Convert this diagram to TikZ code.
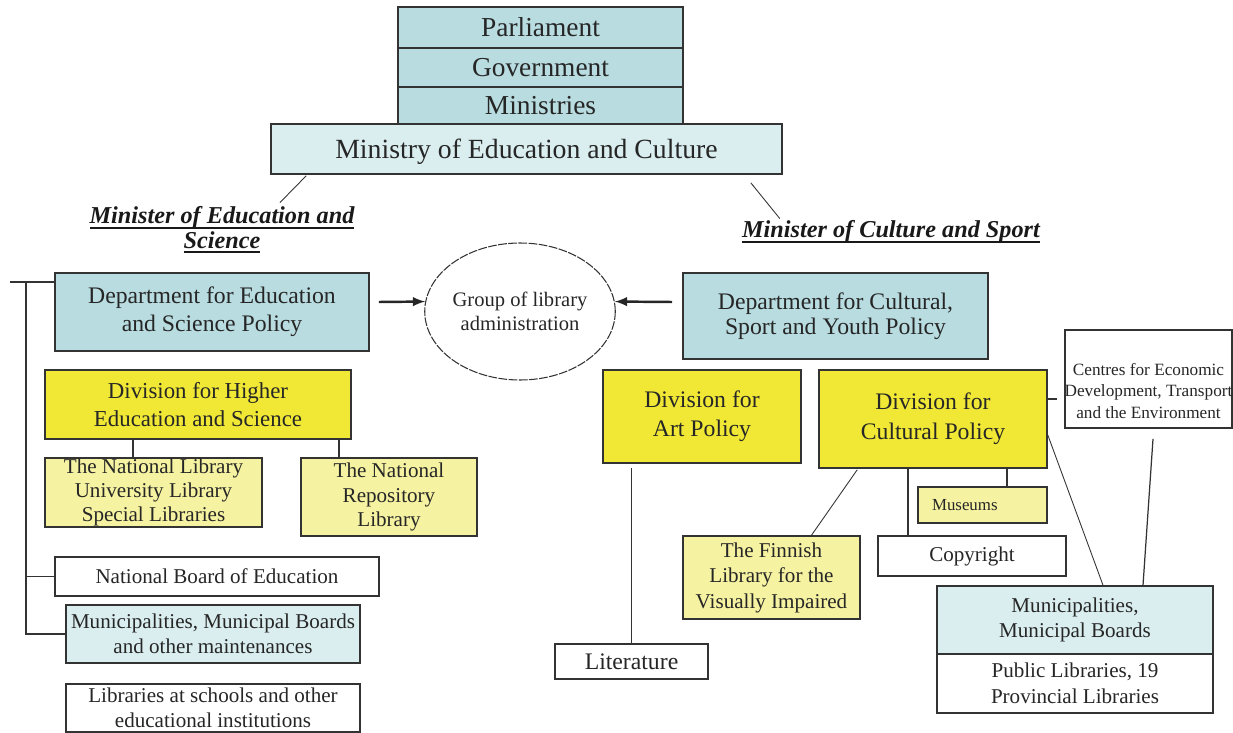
\documentclass[tikz,border=0pt]{standalone}
\usepackage{fontspec}
\setmainfont{Liberation Serif}
\usetikzlibrary{arrows,calc,shapes.geometric}
\definecolor{deep}{HTML}{B8DCE0}
\definecolor{pale}{HTML}{DAEEF0}
\definecolor{yell}{HTML}{F0E835}
\definecolor{lyell}{HTML}{F5F2A1}
\newcommand{\minline}[1]{\setbox0\hbox{#1}\rlap{\rule[-2.8pt]{\wd0}{1.2pt}}\box0}
\tikzset{
  box/.style={draw=black!80,line width=0.9pt,inner sep=0pt,align=center,text=black!85},
  sz/.style 2 args={minimum width=#1*0.02cm,minimum height=#2*0.02cm},
  conn/.style={draw=black!80,line width=0.7pt},
  arr/.style={draw=black!85,line width=1.4pt,-latex},
  minlabel/.style={inner sep=0pt,align=center,text=black!90,font=\fontsize{13.8}{13.8}\bfseries\itshape}
}

\begin{document}
\begin{tikzpicture}[x=0.02cm,y=-0.02cm]
  \useasboundingbox (0,0) rectangle (1233,733);

  % top of the chart
  \node[box,fill=deep,sz={285}{41},font=\fontsize{15.6}{18}\selectfont] (parl) at (540.5,27.5) {Parliament};
  \node[box,fill=deep,sz={285}{39},font=\fontsize{15.6}{18}\selectfont] (gov) at (540.5,67.5) {Government};
  \node[box,fill=deep,sz={285}{37},font=\fontsize{15.6}{18}\selectfont] (mins) at (540.5,105.5) {Ministries};
  \node[box,fill=pale,sz={511}{50},text height=14pt,text depth=3pt,font=\fontsize{15.8}{18}\selectfont] (moec) at (526.5,149) {Ministry of Education and Culture};

  \node[minlabel] (minEd) at (222,230) {\minline{Minister of Education and}\\\minline{Science}};
  \node[minlabel] (minCu) at (891,232) {\minline{Minister of Culture and Sport}};
  \draw[conn,line width=0.5pt] ($(moec.south west)+(36,1)$) -- ($(minEd.north)+(58,-4)$);
  \draw[conn,line width=0.5pt] ($(moec.south east)+(-32,8)$) -- ($(minCu.north west)+(38,-2)$);

  % departments and the group
  \node[box,fill=deep,sz={314}{78},font=\fontsize{13.5}{16}\selectfont] (deped) at (212,312) {Department for Education\\and Science Policy};
  \node[ellipse,draw=black!80,line width=0.6pt,dash pattern=on 5pt off 0.8pt,inner sep=0pt,align=center,sz={186}{137},
        text=black!85,font=\fontsize{11.7}{13.6}\selectfont] (group) at (520,311.5) {Group of library\\administration};
  \node[box,fill=deep,sz={305}{86},font=\fontsize{13.5}{14.2}\selectfont] (depcu) at (835.5,316) {Department for Cultural,\\Sport and Youth Policy};
  \draw[arr] ($(deped.east)+(9,-10)$) -- (group.174);
  \draw[arr] ($(depcu.west)+(-10,-14)$) -- (group.6);

  % education side
  \node[box,fill=yell,sz={306}{69},font=\fontsize{13}{16}\selectfont] (divhe) at (198,404.5) {Division for Higher\\Education and Science};
  \node[box,fill=lyell,sz={217}{69},font=\fontsize{12}{13.9}\selectfont] (natlib) at (153.5,492.5) {The National Library\\University Library\\Special Libraries};
  \node[box,fill=lyell,sz={176}{78},font=\fontsize{12}{14}\selectfont] (natrep) at (389,497) {The National\\Repository\\Library};
  \node[box,fill=white,sz={324}{39},font=\fontsize{12}{14}\selectfont] (nbe) at (217,576.5) {National Board of Education};
  \node[box,fill=pale,sz={294}{58},font=\fontsize{12}{14}\selectfont] (munl) at (213,634) {Municipalities, Municipal Boards\\and other maintenances};
  \node[box,fill=white,sz={294}{48},font=\fontsize{12}{14}\selectfont] (libsch) at (213,708) {Libraries at schools and other\\educational institutions};

  \coordinate (nlfoot) at ($(natlib.north)+(-20.5,0)$);
  \coordinate (nrfoot) at ($(natrep.north)+(-50,0)$);
  \draw[conn] (nlfoot) -- (nlfoot |- divhe.south);
  \draw[conn] (nrfoot) -- (nrfoot |- divhe.south);
  \coordinate (brtop) at (10,282);
  \coordinate (spine) at (26,282);
  \draw[conn] (brtop) -- (brtop -| deped.west);
  \draw[conn] (spine) |- (munl.west);
  \draw[conn] (spine |- nbe.west) -- (nbe.west);

  % culture side
  \node[box,fill=yell,sz={198}{93},font=\fontsize{13.5}{16.5}\selectfont] (divart) at (702,416.5) {Division for\\Art Policy};
  \node[box,fill=white,sz={153}{35},font=\fontsize{13.5}{16}\selectfont] (lit) at (631.5,661.5) {Literature};
  \node[box,fill=yell,sz={228}{98},font=\fontsize{13.5}{17}\selectfont] (divcu) at (933,419) {Division for\\Cultural Policy};
  \node[box,fill=lyell,sz={177}{83},font=\fontsize{12}{14.5}\selectfont] (finn) at (771.5,577.5) {The Finnish\\Library for the\\Visually Impaired};
  \node[box,fill=lyell,sz={129}{36},text width=101*0.02cm,align=left,font=\fontsize{9.6}{11}\selectfont] (mus) at (982.5,505) {Museums};
  \node[box,fill=white,sz={188}{40},font=\fontsize{12}{14}\selectfont] (copy) at (972,556) {Copyright};
  \node[box,fill=white,sz={167}{98}] (centres) at (1148.5,379) {};
  \node[inner sep=0pt,align=center,text=black!85,font=\fontsize{9.8}{12}\selectfont] (centrestxt) at (1148.5,391) {Centres for Economic\\Development, Transport\\and the Environment};
  \node[box,fill=pale,sz={276}{68},font=\fontsize{12}{14}\selectfont] (munr) at (1075,620) {Municipalities,\\Municipal Boards};
  \node[box,fill=white,sz={276}{59},font=\fontsize{12}{14.5}\selectfont] (publ) at (1075,683.5) {Public Libraries, 19\\Provincial Libraries};

  \draw[conn] (lit.north) -- ($(divart.south -| lit.north)+(0,4)$);
  \draw[conn,line width=0.5pt] ($(divcu.south west)+(39,1)$) -- ($(finn.north)+(40,0)$);
  \coordinate (cpfoot) at ($(copy.north)+(-64,0)$);
  \coordinate (msfoot) at ($(mus.north)+(24.5,0)$);
  \draw[conn] (cpfoot) -- (cpfoot |- divcu.south);
  \draw[conn] (msfoot) -- (msfoot |- divcu.south);
  \draw[conn] ($(divcu.east)+(0,-20)$) -- ($(divcu.east)+(9,-20)$);
  \draw[conn,line width=0.5pt] ($(divcu.east)+(0,16)$) -- ($(munr.north)+(28,0)$);
  \draw[conn] ($(centres.south)+(4.5,10)$) -- ($(munr.north)+(68,0)$);
\end{tikzpicture}
\end{document}
